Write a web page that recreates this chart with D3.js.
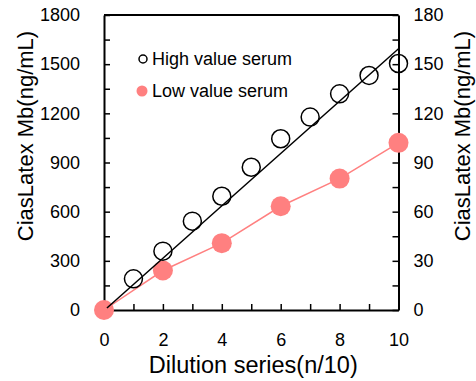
<!DOCTYPE html>
<html>
<head>
<meta charset="utf-8">
<script src="https://cdn.jsdelivr.net/npm/d3@7"></script>
<style>
  body { margin: 0; background: #fff; }
  svg text { font-family: "Liberation Sans", Arial, sans-serif; fill: #000; }
</style>
</head>
<body>
<svg width="476" height="381"></svg>
<script>
// chart data
const dilution = [0, 1, 2, 3, 4, 5, 6, 7, 8, 9, 10];
const highValues = [0, 190, 359, 542, 694, 871, 1045, 1177, 1319, 1431, 1504]; // left axis, ng/mL
const lowDilution = [0, 2, 4, 6, 8, 10];
const lowValues = [0, 24.1, 40.8, 63.3, 80.2, 102]; // right axis, ng/mL
// regression line for the high value serum
const fitX = [0.1, 10];
const fitY = [12, 1594];
const xTicks = [0, 1, 2, 3, 4, 5, 6, 7, 8, 9, 10];
const leftTicks = d3.range(0, 1801, 150);
const rightTicks = d3.range(0, 181, 15);
const seriesNames = ["High value serum", "Low value serum"];

const pink = "#ff8080";

let svg = d3.select("svg");

// scales
let x = d3.scaleLinear().domain([0, 10]).range([104, 398.5]);
let yLeft = d3.scaleLinear().domain([0, 1800]).range([310, 15]);
let yRight = d3.scaleLinear().domain([0, 180]).range([310, 15]);

// top border of the frame
svg.append("line")
    .attr("x1", x(0)).attr("x2", x(10))
    .attr("y1", yLeft(1800)).attr("y2", yLeft(1800))
    .attr("stroke", "#000").attr("stroke-width", 2);

// axes, ticks point inwards
let bottomAxis = svg.append("g")
    .attr("transform", "translate(0," + yLeft(0) + ")")
    .call(d3.axisBottom(x).tickValues(xTicks)
        .tickFormat(d => d % 2 === 0 ? d : "")
        .tickSizeInner(-6).tickSizeOuter(0).tickPadding(23));

let leftAxis = svg.append("g")
    .attr("transform", "translate(" + x(0) + ",0)")
    .call(d3.axisLeft(yLeft).tickValues(leftTicks)
        .tickFormat(d => d % 300 === 0 ? d : "")
        .tickSizeInner(-6).tickSizeOuter(0).tickPadding(24));

let rightAxis = svg.append("g")
    .attr("transform", "translate(" + x(10) + ",0)")
    .call(d3.axisRight(yRight).tickValues(rightTicks)
        .tickFormat(d => d % 30 === 0 ? d : "")
        .tickSizeInner(-6).tickSizeOuter(0).tickPadding(15));

[bottomAxis, leftAxis, rightAxis].forEach(function (g) {
    g.select(".domain").attr("stroke", "#000").attr("stroke-width", 2);
    g.selectAll(".tick line").attr("stroke", "#000").attr("stroke-width", 1.5);
    g.selectAll(".tick text").style("font-size", "18px").attr("fill", "#000");
});

// axis titles
svg.append("text")
    .attr("transform", "translate(33,136) rotate(-90)")
    .attr("text-anchor", "middle")
    .style("font-size", "22px")
    .text("CiasLatex Mb(ng/mL)");

svg.append("text")
    .attr("transform", "translate(470,136) rotate(-90)")
    .attr("text-anchor", "middle")
    .style("font-size", "22px")
    .text("CiasLatex Mb(ng/mL)");

svg.append("text")
    .attr("x", (x(0) + x(10)) / 2 + 2)
    .attr("y", 373)
    .attr("text-anchor", "middle")
    .style("font-size", "23.5px")
    .text("Dilution series(n/10)");

// low value serum: line and filled points
let lowData = lowDilution.map((d, i) => [d, lowValues[i]]);
svg.append("path")
    .datum(lowData)
    .attr("fill", "none")
    .attr("stroke", pink)
    .attr("stroke-width", 1.5)
    .attr("d", d3.line().x(d => x(d[0])).y(d => yRight(d[1])));

svg.append("g").selectAll("circle")
    .data(lowData)
    .enter()
    .append("circle")
    .attr("cx", d => x(d[0]))
    .attr("cy", d => yRight(d[1]))
    .attr("r", 10)
    .attr("fill", pink);

// high value serum: fitted line and open circles
let fitData = fitX.map((d, i) => [d, fitY[i]]);
svg.append("path")
    .datum(fitData)
    .attr("fill", "none")
    .attr("stroke", "#000")
    .attr("stroke-width", 1.5)
    .attr("d", d3.line().x(d => x(d[0])).y(d => yLeft(d[1])));

svg.append("g").selectAll("circle")
    .data(dilution.slice(1))
    .enter()
    .append("circle")
    .attr("cx", d => x(d))
    .attr("cy", (d, i) => yLeft(highValues[i + 1]))
    .attr("r", 9)
    .attr("fill", "none")
    .attr("stroke", "#000")
    .attr("stroke-width", 1.5);

// legend
let legend = svg.append("g");
legend.append("circle")
    .attr("cx", 143).attr("cy", 59).attr("r", 4)
    .attr("fill", "none").attr("stroke", "#000").attr("stroke-width", 1.5);
legend.append("circle")
    .attr("cx", 142).attr("cy", 91).attr("r", 5.5)
    .attr("fill", pink);
legend.selectAll("text")
    .data(seriesNames)
    .enter()
    .append("text")
    .attr("x", 152)
    .attr("y", (d, i) => 65 + i * 32)
    .style("font-size", "18px")
    .text(d => d);
</script>
</body>
</html>
